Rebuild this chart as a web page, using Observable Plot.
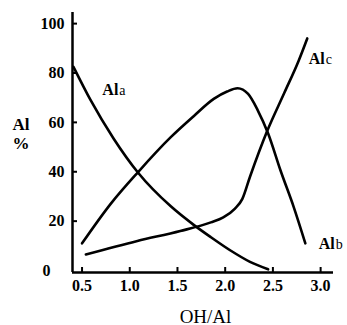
<!DOCTYPE html>
<html><head><meta charset="utf-8">
<script src="https://cdn.jsdelivr.net/npm/d3@7"></script>
<script src="https://cdn.jsdelivr.net/npm/@observablehq/plot@0.6"></script>
<style>body{margin:0;background:#fff}</style>
</head><body><div id="chart"></div>
<script>
// OH/Al ratio (x) and Al % (y)
const alaX = [0.41, 0.59, 0.83, 1.09, 1.43, 1.67, 1.85, 2.06, 2.26, 2.45];
const alaY = [82.5, 69, 53.5, 39.5, 26, 18.5, 13.5, 8, 3.5, 0.5];

const albX = [0.5, 0.8, 1.09, 1.43, 1.67, 1.88, 2.02, 2.13, 2.24, 2.34, 2.45, 2.58, 2.72, 2.84];
const albY = [11, 27, 40, 54, 62.5, 69.5, 72.5, 73.8, 71.5, 65, 55.5, 40.5, 25.5, 11];

const alcX = [0.54, 1.08, 1.53, 1.85, 1.98, 2.1, 2.18, 2.26, 2.44, 2.62, 2.77, 2.86];
const alcY = [6.5, 12, 16, 19.5, 21.5, 25, 29, 38, 56.5, 72, 85, 94];

const seriesNames = ["a", "b", "c"];
const labelX = [0.713, 2.98, 2.876];
const labelY = [70.9, 8.8, 83.7];

const xTicks = [0.5, 1.0, 1.5, 2.0, 2.5, 3.0];
const yTicks = [20, 40, 60, 80, 100];
const yZeroTick = [0];
const xDomain = [0.4, 3.135];
const yDomain = [-0.8, 104.5];

const rows = (name, xs, ys) => xs.map((x, i) => ({series: name, x, y: ys[i]}));
const data = [
  ...rows("a", alaX, alaY),
  ...rows("b", albX, albY),
  ...rows("c", alcX, alcY)
];
const labels = seriesNames.map((s, i) => ({s, x: labelX[i], y: labelY[i]}));

const font = "Liberation Serif, Times New Roman, serif";

const chart = Plot.plot({
  width: 347,
  height: 325,
  marginLeft: 72,
  marginRight: 14,
  marginTop: 12,
  marginBottom: 53,
  x: {domain: xDomain},
  y: {domain: yDomain},
  style: {fontFamily: font, fontSize: "16px", background: "white", color: "black"},
  marks: [
    Plot.ruleX([xDomain[0]], {stroke: "black", strokeWidth: 2.5}),
    Plot.ruleY([yDomain[0]], {stroke: "black", strokeWidth: 2.5}),
    // inward ticks
    Plot.axisX(xTicks, {tickSize: -5, strokeWidth: 2, tickFormat: () => "", label: null}),
    Plot.axisY(yTicks, {tickSize: -5, strokeWidth: 2, tickFormat: () => "", label: null}),
    // tick labels
    Plot.axisX(xTicks, {tickSize: 0, tickPadding: 7, tickFormat: d => d.toFixed(1), fontWeight: "bold", fontSize: 16, label: null}),
    Plot.axisY(yTicks, {tickSize: 0, tickPadding: 8, tickFormat: d => String(d), fontWeight: "bold", fontSize: 16, label: null}),
    Plot.axisY(yZeroTick, {tickSize: 0, tickPadding: 22, tickFormat: d => String(d), fontWeight: "bold", fontSize: 16, label: null}),
    // curves
    Plot.line(data, {x: "x", y: "y", z: "series", stroke: "black", strokeWidth: 2.6, curve: "monotone-x"}),
    // series labels: "Al" + small letter
    Plot.text(labels, {x: "x", y: "y", text: () => "Al", textAnchor: "start", lineAnchor: "bottom", fontWeight: "bold", fontSize: 16}),
    Plot.text(labels, {x: "x", y: "y", text: "s", textAnchor: "start", lineAnchor: "bottom", dx: 17, fontSize: 14}),
    // axis titles
    Plot.text(["Al"], {frameAnchor: "top-left", dx: -60, dy: 117, textAnchor: "start", lineAnchor: "bottom", fontWeight: "bold", fontSize: 17}),
    Plot.text(["%"], {frameAnchor: "top-left", dx: -60, dy: 136, textAnchor: "start", lineAnchor: "bottom", fontWeight: "bold", fontSize: 17}),
    Plot.text(["OH/Al"], {frameAnchor: "bottom", dx: 2.5, dy: 50, lineAnchor: "bottom", fontSize: 19})
  ]
});
document.getElementById("chart").appendChild(chart);
</script>
</body></html>
